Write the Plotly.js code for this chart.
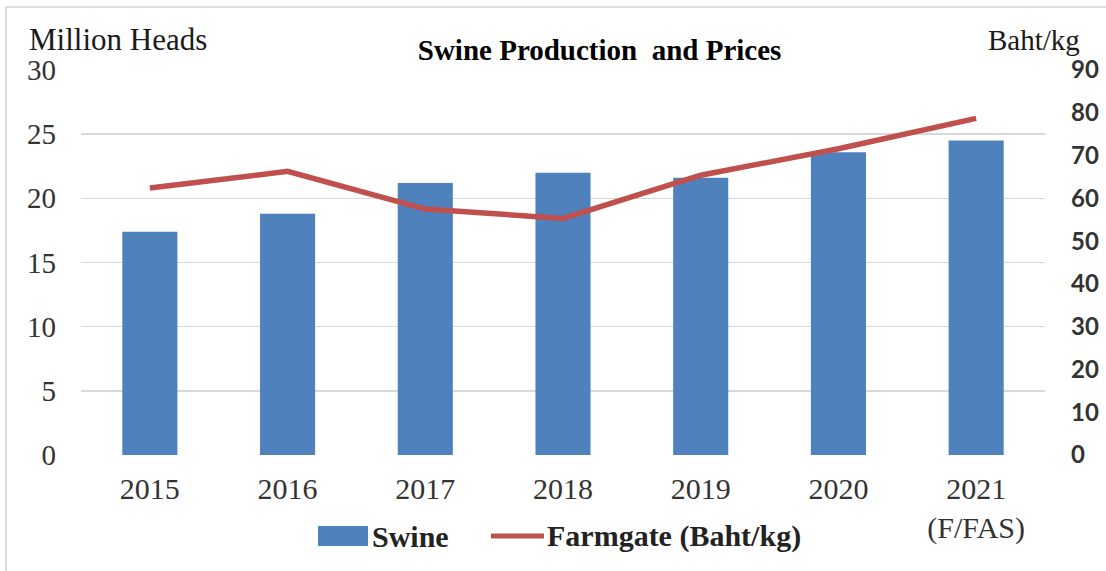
<!DOCTYPE html>
<html>
<head>
<meta charset="utf-8">
<script src="https://cdn.plot.ly/plotly-3.0.1.min.js"></script>
<style>html,body{margin:0;padding:0;background:#fff;}#chart{width:1106px;height:571px;}</style>
</head>
<body>
<div id="chart"></div>
<script>
// ---- data ----
const years = ["2015", "2016", "2017", "2018", "2019", "2020", "2021<br>(F/FAS)"];
const swine = [17.4, 18.8, 21.2, 22.0, 21.6, 23.6, 24.5];          // million heads
const farmgate = [62.4, 66.3, 57.5, 55.3, 65.4, 71.6, 78.7];       // Baht/kg
const leftTicks = [0, 5, 10, 15, 20, 25, 30];
const rightTicks = [0, 10, 20, 30, 40, 50, 60, 70, 80, 90];

// ---- layout geometry (pixels) ----
const W = 1106, H = 571;
const L = 81, R = 1045, T = 70, B = 455;
const px = x => (x - L) / (R - L);
const py = y => (B - y) / (B - T);

const serif = "Liberation Serif, Times New Roman, serif";
const blue = "#4f81bd", red = "#c0504d";

const traces = [
  {type: "bar", x: years, y: swine, name: "Swine", marker: {color: blue}, yaxis: "y", hoverinfo: "x+y"},
  {type: "scatter", mode: "lines", x: years, y: farmgate, name: "Farmgate (Baht/kg)",
   line: {color: red, width: 5.5}, yaxis: "y2"}
];

const layout = {
  width: W, height: H,
  margin: {l: L, r: W - R, t: T, b: H - B, pad: 0},
  paper_bgcolor: "#fff", plot_bgcolor: "#fff",
  showlegend: false,
  bargap: 0.6,
  title: {text: "<b>Swine Production\u00a0 and Prices</b>", font: {family: serif, size: 29, color: "#000"},
          x: 595 / W, xref: "paper", xanchor: "center", y: 1 - 50 / H, yref: "container", yanchor: "middle"},
  xaxis: {type: "category", showgrid: false, zeroline: false, showline: false, ticks: "",
          tickfont: {family: serif, size: 30, color: "#333"}, ticklabelstandoff: 13},
  yaxis: {range: [0, 30], tickvals: leftTicks, showgrid: true, gridcolor: "#d9d9d9", gridwidth: 1.5,
          zeroline: false, showline: false, ticks: "",
          tickfont: {family: serif, size: 29, color: "#333"}, ticklabelstandoff: 24},
  yaxis2: {range: [0, 90], tickvals: rightTicks, overlaying: "y", side: "right", showgrid: false,
           zeroline: false, showline: false, ticks: "",
           tickfont: {family: "Lato, Open Sans, sans-serif", size: 24, color: "#333", weight: "bold"},
           ticklabelstandoff: 25},
  annotations: [
    {text: "Million Heads", xref: "paper", yref: "paper", x: px(27), y: py(40), xanchor: "left", yanchor: "middle",
     showarrow: false, font: {family: serif, size: 31, color: "#1a1a1a"}},
    {text: "Baht/kg", xref: "paper", yref: "paper", x: px(1034), y: py(40), xanchor: "center", yanchor: "middle",
     showarrow: false, font: {family: serif, size: 29, color: "#1a1a1a"}},
    {text: "<b>Swine</b>", xref: "paper", yref: "paper", x: px(370), y: py(536), xanchor: "left", yanchor: "middle",
     showarrow: false, font: {family: serif, size: 30, color: "#222"}},
    {text: "<b>Farmgate (Baht/kg)</b>", xref: "paper", yref: "paper", x: px(545), y: py(536), xanchor: "left", yanchor: "middle",
     showarrow: false, font: {family: serif, size: 30, color: "#222"}}
  ],
  shapes: [
    // legend swatches
    {type: "rect", xref: "paper", yref: "paper", x0: px(318), x1: px(368), y0: py(526), y1: py(546),
     fillcolor: blue, line: {width: 0}},
    {type: "line", xref: "paper", yref: "paper", x0: px(491), x1: px(544), y0: py(536), y1: py(536),
     line: {color: red, width: 5}},
    // frame (top and left edges)
    {type: "line", xref: "paper", yref: "paper", x0: px(6), x1: px(1106), y0: py(7), y1: py(7),
     line: {color: "#d0d0d0", width: 1.5}},
    {type: "line", xref: "paper", yref: "paper", x0: px(6), x1: px(6), y0: py(7), y1: py(571),
     line: {color: "#d0d0d0", width: 1.5}}
  ]
};

Plotly.newPlot("chart", traces, layout, {displayModeBar: false, staticPlot: true});
</script>
</body>
</html>
